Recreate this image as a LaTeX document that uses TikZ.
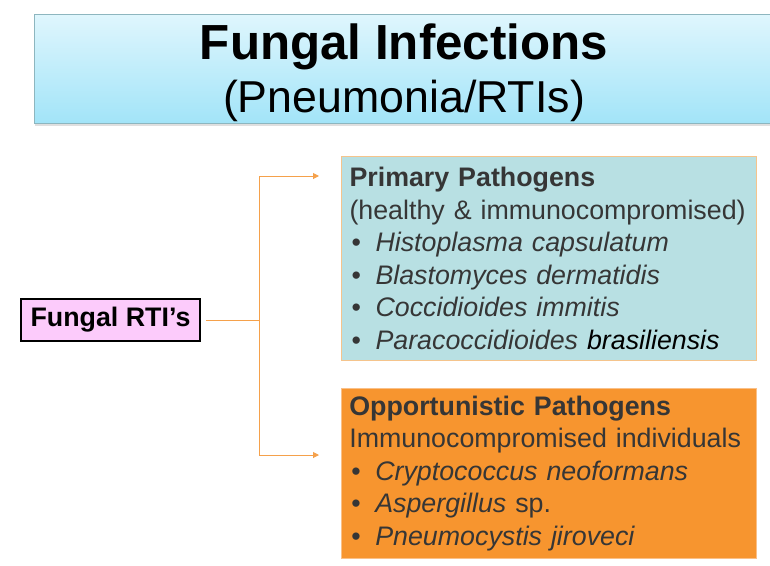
\documentclass[tikz,border=0pt]{standalone}
\usepackage{fontspec}
\setmainfont{Liberation Sans}
\usetikzlibrary{arrows.meta,shadows}

\definecolor{titletop}{HTML}{DFF6FD}
\definecolor{titlebottom}{HTML}{A2E4F8}
\definecolor{titleline}{HTML}{8DB6BF}
\definecolor{rootpink}{HTML}{FCCBFB}
\definecolor{linkorange}{HTML}{F5A14B}
\definecolor{primfill}{HTML}{B8E0E3}
\definecolor{primline}{HTML}{F5C48C}
\definecolor{oppfill}{HTML}{F7952F}
\definecolor{oppline}{HTML}{FAC088}
\definecolor{bodygray}{HTML}{363636}

\newcommand{\bodyfont}{\fontsize{26.8}{32.6}\selectfont}
\newcommand{\pitem}[1]{\makebox[26pt][l]{\hspace{2pt}\textbullet}\textit{#1}}

\begin{document}
\begin{tikzpicture}[x=1pt,y=-1pt,
		titlebox/.style={draw=titleline, line width=1pt, top color=titletop, bottom color=titlebottom,
			drop shadow={shadow xshift=0pt, shadow yshift=-2pt, opacity=.25},
			minimum width=745pt, minimum height=109pt, inner sep=0pt},
		rootbox/.style={draw=black, line width=1.8pt, fill=rootpink, minimum width=179pt, minimum height=42pt,
			inner sep=0pt, font=\bfseries\fontsize{26.8}{30}\selectfont},
		groupbox/.style={anchor=north west, inner xsep=8pt, inner ysep=0pt, align=left, text=bodygray,
			text width=399pt, font=\bodyfont},
		link/.style={draw=linkorange, line width=1pt},
		linkarrow/.style={link, -{Triangle[length=6pt,width=6pt]}}]
	\useasboundingbox (0,0) rectangle (770,565);
	% title
	\node [titlebox, anchor=north west] (titlebox) at (34,14) {};
	\node [anchor=base, font=\bfseries\fontsize{49.3}{50}\selectfont] (title) at (404,59) {Fungal Infections};
	\node [anchor=base, font=\fontsize{44.7}{50}\selectfont] (subtitle) at (404,112) {(Pneumonia/RTIs)};
	% root
	\node [rootbox] (root) at (110.5,320) {Fungal RTI’s};
	% groups
	\node [groupbox, draw=primline, line width=1pt, fill=primfill, minimum height=204pt] (primary) at (341,156) {%
		\textbf{Primary Pathogens}\\
		(healthy \& immunocompromised)\\
		\pitem{Histoplasma capsulatum}\\
		\pitem{Blastomyces dermatidis}\\
		\pitem{Coccidioides immitis}\\
		\pitem{Paracoccidioides {\color{black}brasiliensis}}};
	\node [groupbox, draw=oppline, line width=.6pt, fill=oppfill, minimum height=170pt] (opportunistic) at (341,388) {%
		\textbf{Opportunistic Pathogens}\\
		Immunocompromised individuals\\
		\pitem{Cryptococcus neoformans}\\
		\pitem{Aspergillus}~sp.\\
		\pitem{Pneumocystis jiroveci}};
	% connectors
	\coordinate (fork) at (259,320);
	\coordinate (primaryin) at (319,176);
	\coordinate (opportunisticin) at (319,455);
	\draw [link, shorten <=5pt] (root.east) -- (fork);
	\draw [linkarrow] (fork) |- (primaryin);
	\draw [linkarrow] (fork) |- (opportunisticin);
\end{tikzpicture}
\end{document}
